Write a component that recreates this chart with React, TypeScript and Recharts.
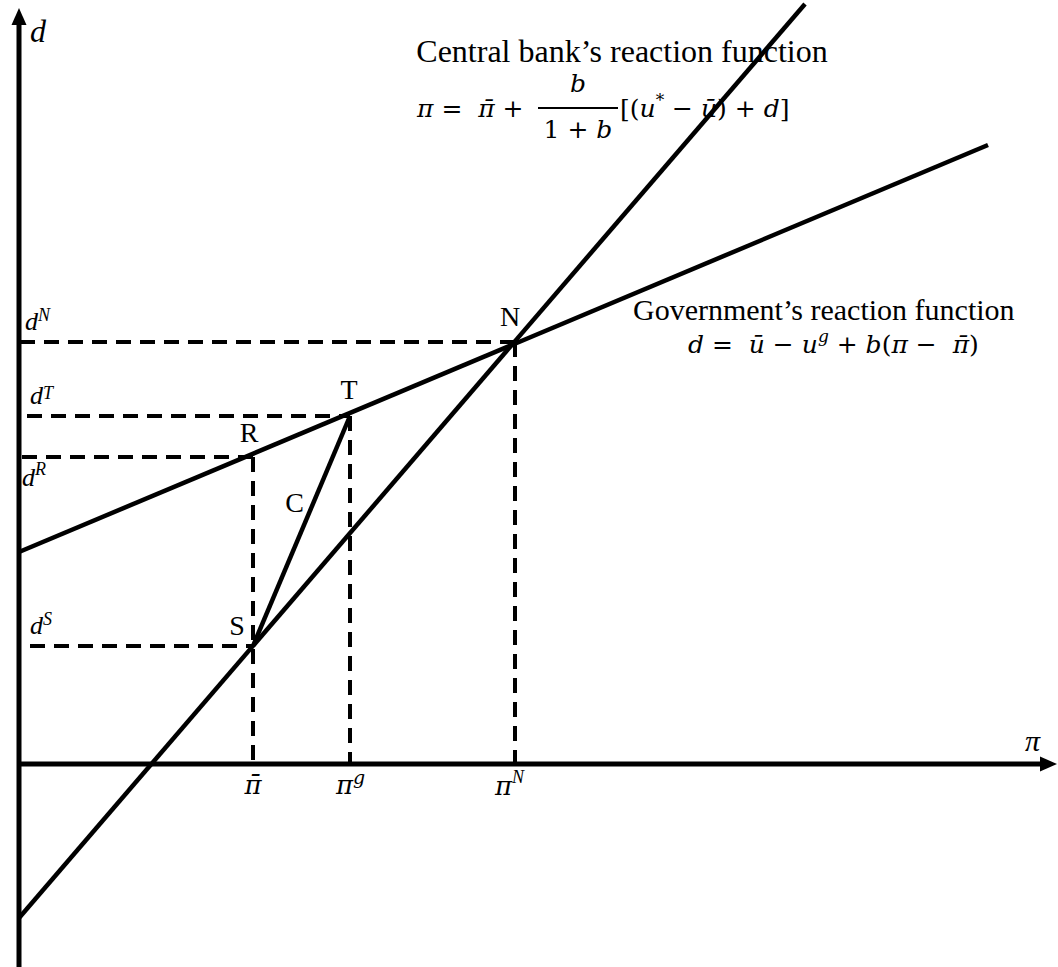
import React from 'react';
import { ComposedChart, Line, XAxis, YAxis, ReferenceDot, ReferenceLine } from 'recharts';

// intersection points, π on the x axis and d on the y axis
const pointNames = ['S', 'R', 'T', 'N'];
const pointPi = [23.4, 23.4, 33.1, 49.6];
const pointD = [11.8, 30.7, 34.8, 42.2];

// the two reaction functions (end points)
const bankLine = [
  { x: 0, y: -15.4 },
  { x: 78.6, y: 76.0 },
];
const govLine = [
  { x: 0, y: 21.2 },
  { x: 96.9, y: 61.9 },
];

// where each dashed d-guide starts on the d axis
const guideStart = [1.1, 0.3, 0.8, 0.1];

// axis extents
const xDomain = [-1.9, 103.9];
const yDomain = [-20.3, 76.4];
const piAxisEnd = 102.2;
const piAxisTip = 103.8;
const dAxisEnd = 74.0;
const dAxisTip = 75.6;

const W = 1058;
const H = 967;
const FONT = '"Liberation Serif", "Times New Roman", serif';
const MATH = '"DejaVu Serif", serif';
const INK = '#000';
const DASH = '15 9';

const pt = (i: number) => ({ x: pointPi[i], y: pointD[i] });

const hGuides = pointNames.map((_, i) => [{ x: guideStart[i], y: pointD[i] }, pt(i)]);
const vGuides = [1, 2, 3].map((i) => [pt(i), { x: pointPi[i], y: 0 }]);
const chord = [pt(0), pt(2)];

const at = (
  key: string,
  x: number,
  y: number,
  draw: (cx: number, cy: number) => React.ReactNode
) => (
  <ReferenceDot
    key={key}
    x={x}
    y={y}
    r={0}
    isFront
    ifOverflow="visible"
    shape={(p: any) => <g>{draw(p.cx, p.cy)}</g>}
  />
);

const txt = { fontFamily: FONT, fill: INK, whiteSpace: 'pre' as const };
const mth = { fontFamily: MATH, fill: INK, whiteSpace: 'pre' as const };

// label offsets (pixels): dx, dy, superscript shift
const dLabelOff = [
  [11, -12, -9],
  [3, 29, -11],
  [11, -12, -5],
  [6, -12, -9],
];
const pointLabelOff = [
  [-16, -11],
  [-4, -15],
  [-1, -17],
  [-5, -16],
];

const seg = (key: string, a: { x: number; y: number }, b: { x: number; y: number }, width: number, dash?: string) => (
  <ReferenceLine
    key={key}
    segment={[a, b]}
    stroke={INK}
    strokeWidth={width}
    strokeDasharray={dash}
    ifOverflow="visible"
  />
);

export default function App() {
  return (
    <div style={{ position: 'absolute', left: 0, top: 0, width: W, height: H, background: '#fff' }}>
      <ComposedChart width={W} height={H} margin={{ top: 0, right: 0, bottom: 0, left: 0 }}>
        <XAxis type="number" dataKey="x" domain={xDomain} allowDataOverflow hide />
        <YAxis type="number" dataKey="y" domain={yDomain} allowDataOverflow hide />

        {/* axes */}
        {seg('ax', { x: 0, y: 0 }, { x: piAxisEnd, y: 0 }, 5)}
        {seg('ay', { x: 0, y: yDomain[0] }, { x: 0, y: dAxisEnd }, 5)}

        {/* dashed guides */}
        {hGuides.map((s, i) => seg('h' + i, s[0], s[1], 4, DASH))}
        {vGuides.map((s, i) => seg('v' + i, s[0], s[1], 4, DASH))}

        {/* reaction functions and the S-T path */}
        <Line data={bankLine} dataKey="y" stroke={INK} strokeWidth={4.5} dot={false} activeDot={false} isAnimationActive={false} />
        <Line data={govLine} dataKey="y" stroke={INK} strokeWidth={4.5} dot={false} activeDot={false} isAnimationActive={false} />
        <Line data={chord} dataKey="y" stroke={INK} strokeWidth={4.5} dot={false} activeDot={false} isAnimationActive={false} />

        {/* arrow heads */}
        {at('arrY', 0, dAxisTip, (cx, cy) => (
          <polygon points={`${cx},${cy} ${cx - 7.5},${cy + 17} ${cx + 7.5},${cy + 17}`} fill={INK} />
        ))}
        {at('arrX', piAxisTip, 0, (cx, cy) => (
          <polygon points={`${cx},${cy} ${cx - 17},${cy - 7.5} ${cx - 17},${cy + 7.5}`} fill={INK} />
        ))}

        {/* axis names */}
        {at('dname', 0, dAxisTip, (cx, cy) => (
          <text x={cx + 11} y={cy + 34} fontSize={32} fontStyle="italic" style={txt}>d</text>
        ))}
        {at('piname', piAxisTip, 0, (cx, cy) => (
          <text x={cx - 32} y={cy - 13} fontSize={30} fontStyle="italic" style={txt}>π</text>
        ))}

        {/* d level labels */}
        {pointNames.map((n, i) =>
          at('dl' + n, 0, pointD[i], (cx, cy) => (
            <text x={cx + dLabelOff[i][0]} y={cy + dLabelOff[i][1]} fontSize={26} fontStyle="italic" style={txt}>
              d<tspan fontSize={18} dy={dLabelOff[i][2]}>{n}</tspan>
            </text>
          ))
        )}

        {/* point labels */}
        {pointNames.map((n, i) =>
          at('pl' + n, pointPi[i], pointD[i], (cx, cy) => (
            <text x={cx + pointLabelOff[i][0]} y={cy + pointLabelOff[i][1]} fontSize={28} textAnchor="middle" style={txt}>
              {n}
            </text>
          ))
        )}
        {at('C', (pointPi[0] + pointPi[2]) / 2, (pointD[0] + pointD[2]) / 2, (cx, cy) => (
          <text x={cx - 7} y={cy - 19} fontSize={28} textAnchor="middle" style={txt}>C</text>
        ))}

        {/* π tick labels */}
        {at('pibar', pointPi[0], 0, (cx, cy) => (
          <text x={cx} y={cy + 30} fontSize={26} fontStyle="italic" textAnchor="middle" style={mth}>π̄</text>
        ))}
        {at('pig', pointPi[2], 0, (cx, cy) => (
          <text x={cx - 14} y={cy + 30} fontSize={26} fontStyle="italic" style={mth}>
            π<tspan fontSize={19} dy={-10}>g</tspan>
          </text>
        ))}
        {at('piN', pointPi[3], 0, (cx, cy) => (
          <text x={cx - 20} y={cy + 31} fontSize={26} fontStyle="italic" style={mth}>
            π<tspan fontSize={18} dy={-12} style={txt}>N</tspan>
          </text>
        ))}

        {/* central bank reaction function */}
        {at('cbTitle', 60.3, 70.2, (cx, cy) => (
          <text x={cx} y={cy} fontSize={32} textAnchor="middle" style={txt}>Central bank’s reaction function</text>
        ))}
        {at('cbEq', 39.8, 64.7, (cx, cy) => (
          <g>
            <text x={cx} y={cy} fontSize={25} style={mth}>
              <tspan fontStyle="italic">π</tspan> =  <tspan fontStyle="italic">π̄</tspan> +
            </text>
            <text x={cx + 161} y={cy - 25} fontSize={25} fontStyle="italic" textAnchor="middle" style={mth}>b</text>
            <line x1={cx + 121} x2={cx + 201} y1={cy - 9} y2={cy - 9} stroke={INK} strokeWidth={2} />
            <text x={cx + 161} y={cy + 21} fontSize={25} textAnchor="middle" style={mth}>
              1 + <tspan fontStyle="italic">b</tspan>
            </text>
            <text x={cx + 203} y={cy} fontSize={25} style={mth}>
              [(<tspan fontStyle="italic">u</tspan>
              <tspan fontSize={17} dy={-11}>*</tspan>
              <tspan dy={11}> − </tspan>
              <tspan fontStyle="italic">ū</tspan>) + <tspan fontStyle="italic">d</tspan>]
            </text>
          </g>
        ))}

        {/* government reaction function */}
        {at('gTitle', 61.4, 44.4, (cx, cy) => (
          <text x={cx} y={cy} fontSize={30} style={txt}>Government’s reaction function</text>
        ))}
        {at('gEq', 66.9, 41.1, (cx, cy) => (
          <text x={cx} y={cy} fontSize={25} style={mth}>
            <tspan fontStyle="italic">d</tspan> =  <tspan fontStyle="italic">ū</tspan> − <tspan fontStyle="italic">u</tspan>
            <tspan fontSize={17} dy={-11} fontStyle="italic">g</tspan>
            <tspan dy={11}> + </tspan>
            <tspan fontStyle="italic">b</tspan>(<tspan fontStyle="italic">π</tspan> −  <tspan fontStyle="italic">π̄</tspan>)
          </text>
        ))}
      </ComposedChart>
    </div>
  );
}
